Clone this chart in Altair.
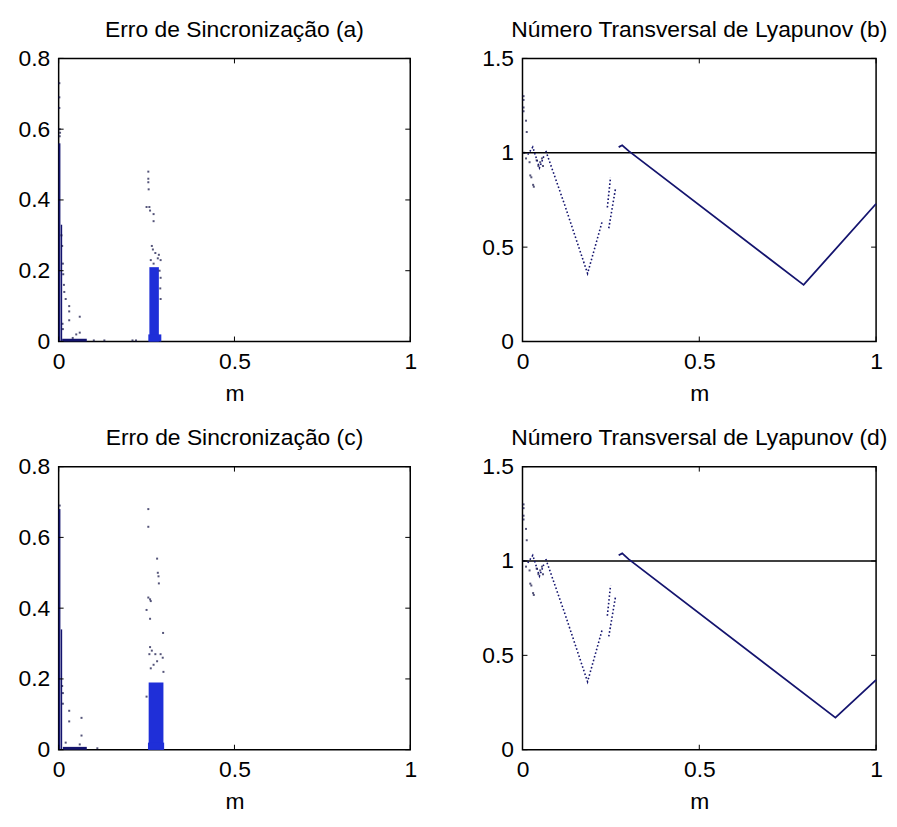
import altair as alt
import pandas as pd

W_L, W_R, H = 354, 356, 285
FONT = "Liberation Sans, Arial, sans-serif"
NAVY = "#14146e"
BLUE = "#1f2fd8"
DARK = "#0c0c40"

x_ticks = [0, 0.5, 1]
err_y_ticks = [0, 0.2, 0.4, 0.6, 0.8]
lyap_y_ticks = [0, 0.5, 1, 1.5]
hline_y = [1.0]

# ---- (a) Erro de Sincronização: dense bands + scattered points
a_band_x1 = [0.000, 0.006, 0.010, 0.258, 0.255]
a_band_x2 = [0.005, 0.010, 0.080, 0.285, 0.292]
a_band_y1 = [0.0, 0.0, 0.0, 0.0, 0.0]
a_band_y2 = [0.56, 0.33, 0.008, 0.21, 0.02]
a_band_c = [NAVY, NAVY, NAVY, BLUE, BLUE]
a_pt_x = [0.002, 0.002, 0.002, 0.003, 0.003, 0.004, 0.008, 0.010, 0.012, 0.013, 0.015,
          0.016, 0.020, 0.030, 0.030, 0.030, 0.060, 0.060, 0.050, 0.040, 0.100, 0.130,
          0.210, 0.220, 0.012, 0.011,
          0.255, 0.255, 0.255, 0.256, 0.250, 0.258, 0.260, 0.270, 0.270, 0.265, 0.268,
          0.275, 0.285, 0.282, 0.290, 0.270, 0.262, 0.287, 0.290, 0.289, 0.290]
a_pt_y = [0.73, 0.69, 0.66, 0.60, 0.58, 0.59, 0.30, 0.27, 0.22, 0.19, 0.16,
          0.14, 0.12, 0.10, 0.085, 0.06, 0.07, 0.025, 0.02, 0.01, 0.003, 0.003,
          0.003, 0.003, 0.035, 0.05,
          0.48, 0.46, 0.45, 0.43, 0.38, 0.38, 0.37, 0.36, 0.34, 0.27, 0.26,
          0.25, 0.245, 0.235, 0.23, 0.22, 0.23, 0.20, 0.18, 0.15, 0.12]

# ---- (c) Erro de Sincronização
c_band_x1 = [0.000, 0.006, 0.012, 0.256, 0.254]
c_band_x2 = [0.005, 0.010, 0.080, 0.298, 0.300]
c_band_y1 = [0.0, 0.0, 0.0, 0.0, 0.0]
c_band_y2 = [0.68, 0.34, 0.008, 0.19, 0.02]
c_band_c = [NAVY, NAVY, NAVY, BLUE, BLUE]
c_pt_x = [0.003, 0.010, 0.012, 0.012, 0.030, 0.030, 0.065, 0.065, 0.060, 0.110, 0.020,
          0.255, 0.255, 0.280, 0.282, 0.284, 0.285, 0.255, 0.260, 0.262, 0.250, 0.260,
          0.297, 0.260, 0.265, 0.258, 0.275, 0.290, 0.280, 0.296, 0.270, 0.262, 0.298, 0.250]
c_pt_y = [0.69, 0.18, 0.16, 0.13, 0.11, 0.08, 0.09, 0.04, 0.015, 0.004, 0.02,
          0.68, 0.63, 0.54, 0.50, 0.49, 0.47, 0.43, 0.425, 0.42, 0.395, 0.37,
          0.33, 0.29, 0.28, 0.27, 0.27, 0.27, 0.25, 0.26, 0.24, 0.23, 0.22, 0.15]

# ---- Lyapunov: shared left part (dotted), b and d right part (solid)
ly_dot_seg = ["w", "w", "w", "w", "v", "v", "v", "v", "v", "p", "p", "q", "q"]
ly_dot_x = [0.015, 0.029, 0.048, 0.062, 0.066, 0.12, 0.184, 0.205, 0.226, 0.240, 0.249, 0.244, 0.263]
ly_dot_y = [0.99, 1.03, 0.92, 0.99, 1.01, 0.72, 0.36, 0.50, 0.64, 0.71, 0.87, 0.60, 0.81]
ly_pt_x = [0.003, 0.003, 0.003, 0.003, 0.010, 0.012, 0.005, 0.010, 0.020, 0.022, 0.025,
           0.030, 0.032, 0.040, 0.045, 0.050, 0.055, 0.058]
ly_pt_y = [1.30, 1.28, 1.24, 1.22, 1.17, 1.11, 1.00, 0.97, 0.95, 0.88, 0.87,
           0.83, 0.82, 0.96, 0.93, 0.95, 0.97, 0.93]
b_line_x = [0.272, 0.282, 0.300, 0.795, 1.000]
b_line_y = [1.03, 1.04, 1.01, 0.30, 0.73]
d_line_x = [0.272, 0.282, 0.300, 0.885, 1.000]
d_line_y = [1.03, 1.04, 1.01, 0.17, 0.37]


def frame_ticks(ytick_vals, w):
    xt = pd.DataFrame({"x": x_ticks})
    yt = pd.DataFrame({"y": ytick_vals})
    return [
        alt.Chart(xt).mark_rule(color="black", strokeWidth=1).encode(
            x="x:Q", y=alt.value(H), y2=alt.value(H - 5)),
        alt.Chart(xt).mark_rule(color="black", strokeWidth=1).encode(
            x="x:Q", y=alt.value(0), y2=alt.value(5)),
        alt.Chart(yt).mark_rule(color="black", strokeWidth=1).encode(
            y="y:Q", x=alt.value(0), x2=alt.value(5)),
        alt.Chart(yt).mark_rule(color="black", strokeWidth=1).encode(
            y="y:Q", x=alt.value(w - 5), x2=alt.value(w)),
    ]


def axes(ymax, ytick_vals):
    xs = alt.X("x:Q", scale=alt.Scale(domain=[0, 1], nice=False),
               axis=alt.Axis(values=x_ticks, title="m", format="~g"))
    ys = alt.Y("y:Q", scale=alt.Scale(domain=[0, ymax], nice=False),
               axis=alt.Axis(values=ytick_vals, title=None, format="~g"))
    return xs, ys


def err_panel(title, bx1, bx2, by1, by2, bc, px, py):
    xs, ys = axes(0.8, err_y_ticks)
    bands = pd.DataFrame({"x": bx1, "x2": bx2, "y": by1, "y2": by2, "c": bc})
    pts = pd.DataFrame({"x": px, "y": py})
    rect = alt.Chart(bands).mark_rect().encode(
        x=xs, x2="x2:Q", y=ys, y2="y2:Q", color=alt.Color("c:N", scale=None))
    dots = alt.Chart(pts).mark_square(size=4, color=DARK).encode(x="x:Q", y="y:Q")
    return alt.layer(rect, dots, *frame_ticks(err_y_ticks, W_L)).properties(
        width=W_L, height=H, title=title)


def lyap_panel(title, lx, ly):
    xs, ys = axes(1.5, lyap_y_ticks)
    hl = pd.DataFrame({"y": hline_y})
    dotted = pd.DataFrame({"seg": ly_dot_seg, "x": ly_dot_x, "y": ly_dot_y})
    pts = pd.DataFrame({"x": ly_pt_x, "y": ly_pt_y})
    solid = pd.DataFrame({"x": lx, "y": ly})
    rule = alt.Chart(hl).mark_rule(color="black", strokeWidth=1.5).encode(y=ys)
    dline = alt.Chart(dotted).mark_line(color=NAVY, strokeWidth=1.6, strokeDash=[1.6, 2.2]).encode(
        x=xs, y="y:Q", detail="seg:N")
    dots = alt.Chart(pts).mark_square(size=4, color=DARK).encode(x="x:Q", y="y:Q")
    sline = alt.Chart(solid).mark_line(color=NAVY, strokeWidth=1.8).encode(x="x:Q", y="y:Q")
    return alt.layer(rule, dline, dots, sline, *frame_ticks(lyap_y_ticks, W_R)).properties(
        width=W_R, height=H, title=title)


pa = err_panel("Erro de Sincronização (a)", a_band_x1, a_band_x2, a_band_y1, a_band_y2,
               a_band_c, a_pt_x, a_pt_y)
pb = lyap_panel("Número Transversal de Lyapunov (b)", b_line_x, b_line_y)
pc = err_panel("Erro de Sincronização (c)", c_band_x1, c_band_x2, c_band_y1, c_band_y2,
               c_band_c, c_pt_x, c_pt_y)
pd_ = lyap_panel("Número Transversal de Lyapunov (d)", d_line_x, d_line_y)

chart = alt.vconcat(
    alt.hconcat(pa, pb, spacing=63),
    alt.hconcat(pc, pd_, spacing=63),
    spacing=20,
).properties(
    padding={"left": 9, "top": 7, "right": 0, "bottom": 0}
).configure_axis(
    labelFont=FONT, labelFontSize=23, labelColor="black", labelPadding=9,
    labelOverlap=False, labelFlush=False,
    titleFont=FONT, titleFontSize=23, titleFontWeight="normal", titleColor="black",
    titlePadding=9, domain=False, ticks=False, grid=False,
).configure_title(
    font=FONT, fontSize=23, fontWeight="normal", color="black", offset=6,
).configure_view(
    stroke="black", strokeWidth=1.5,
)

chart.save("out.html", embed_options={"renderer": "svg", "actions": False})
